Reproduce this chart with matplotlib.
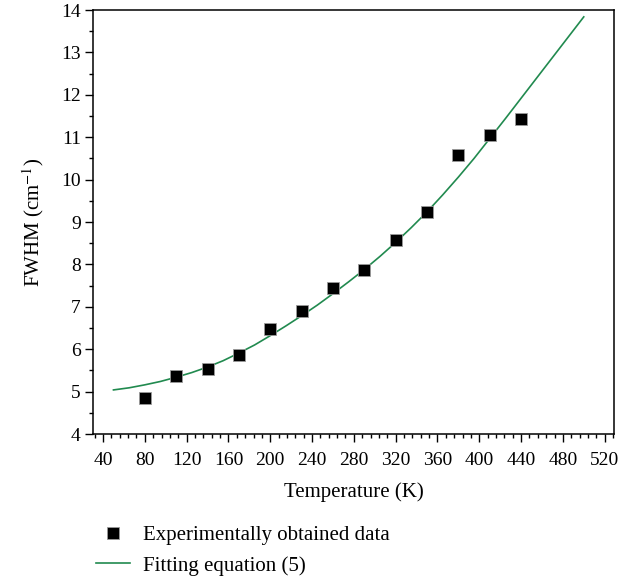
import matplotlib
matplotlib.use("Agg")
import matplotlib.pyplot as plt
from matplotlib.ticker import MultipleLocator
from matplotlib.lines import Line2D

# Experimental data
temp_exp = [80, 110, 140, 170, 200, 230, 260, 290, 320, 350, 380, 410, 440]
fwhm_exp = [4.86, 5.36, 5.53, 5.87, 6.48, 6.90, 7.44, 7.87, 8.58, 9.24, 10.58, 11.06, 11.43]

# Fitting curve
temp_fit = [50, 65, 80, 95, 110, 125, 140, 155, 170, 185, 200, 215, 230, 245, 260, 275,
            290, 305, 320, 335, 350, 365, 380, 395, 410, 425, 440, 455, 470, 485, 500]
fwhm_fit = [5.04, 5.09, 5.16, 5.24, 5.34, 5.45, 5.58, 5.73, 5.91, 6.10, 6.32, 6.55,
            6.79, 7.04, 7.31, 7.59, 7.88, 8.19, 8.52, 8.87, 9.24, 9.64, 10.06, 10.50,
            10.97, 11.44, 11.92, 12.40, 12.88, 13.36, 13.84]

x_ticks = [40, 80, 120, 160, 200, 240, 280, 320, 360, 400, 440, 480, 520]
y_ticks = [4, 5, 6, 7, 8, 9, 10, 11, 12, 13, 14]

plt.rcParams['font.family'] = ['Liberation Serif', 'DejaVu Serif']
plt.rcParams['mathtext.fontset'] = 'stix'

fig = plt.figure(figsize=(6.39, 5.76), dpi=100)
ax = fig.add_axes([0.1455, 0.2465, 0.8155, 0.736])

green = '#218a4f'
ax.plot(temp_fit, fwhm_fit, color=green, lw=1.2, zorder=2)
ax.plot(temp_exp, fwhm_exp, ls='none', marker='s', ms=8.8, mfc='black',
        mec='#9a9a9a', mew=0.6, zorder=3)

ax.set_xlim(30.4, 529)
ax.set_ylim(4, 14)
ax.set_xticks(x_ticks)
ax.set_yticks(y_ticks)
ax.xaxis.set_minor_locator(MultipleLocator(8))
ax.yaxis.set_minor_locator(MultipleLocator(0.5))
ax.tick_params(which='major', direction='out', length=5.8, width=1, labelsize=14,
               top=False, right=False)
ax.tick_params(which='minor', direction='out', length=2.7, width=1, top=False, right=False)
ax.tick_params(axis='x', which='major', pad=7)
ax.tick_params(axis='y', which='major', pad=3)
for s in ax.spines.values():
    s.set_linewidth(1.1)

ax.set_xlabel('Temperature (K)', fontsize=15, labelpad=10)
ax.set_ylabel('FWHM (cm$^{-1}$)', fontsize=15, labelpad=11)

handles = [
    Line2D([], [], ls='none', marker='s', ms=8.5, mfc='black', mec='#9a9a9a', mew=0.6),
    Line2D([], [], color=green, lw=1.2),
]
fig.legend(handles, ['Experimentally obtained data', 'Fitting equation (5)'],
           loc='upper left', bbox_to_anchor=(0.151, 0.087), bbox_transform=fig.transFigure,
           frameon=False, fontsize=15, handlelength=1.6, handletextpad=0.65,
           labelspacing=0.5, borderaxespad=0, borderpad=0)

fig.savefig('out.png', dpi=100)
